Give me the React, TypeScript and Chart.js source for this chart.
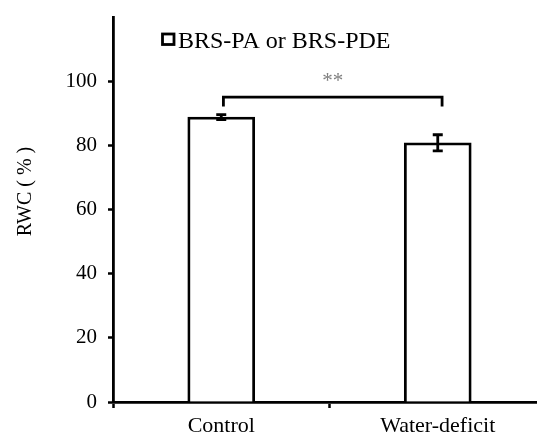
import React, { useEffect, useRef } from 'react';
import { Chart, registerables } from 'chart.js';

Chart.register(...registerables);

const categories = ['Control', 'Water-deficit'];
const rwcMeans = [88.8, 80.8];
const rwcErrors = [0.8, 2.5];
const seriesLabel = 'BRS-PA or BRS-PDE';
const yTitle = 'RWC ( % )';
const yMin = 0;
const yMax = 120;
const yStep = 20;
const bracketTop = 95;
const bracketEndValue = 92.1;
const bracketFrom = 0.01;
const bracketTo = 1.02;
const significance = '**';
const significanceLevel = 101.3;

const FONT = "'Liberation Serif', 'Times New Roman', serif";

const overlayPlugin = {
  id: 'overlay',
  afterDatasetsDraw(chart: any) {
    const ctx = chart.ctx;
    const xs = chart.scales.x;
    const ys = chart.scales.y;
    const meta = chart.getDatasetMeta(0);
    ctx.save();
    // error bars
    ctx.strokeStyle = '#000';
    ctx.lineWidth = 2.8;
    meta.data.forEach((bar: any, i: number) => {
      const x = bar.x;
      const top = ys.getPixelForValue(rwcMeans[i] + rwcErrors[i]);
      const bot = ys.getPixelForValue(rwcMeans[i] - rwcErrors[i]);
      ctx.beginPath();
      ctx.moveTo(x, top);
      ctx.lineTo(x, bot);
      ctx.moveTo(x - 5, top);
      ctx.lineTo(x + 5, top);
      ctx.moveTo(x - 5, bot);
      ctx.lineTo(x + 5, bot);
      ctx.stroke();
    });
    // bracket
    const bx1 = xs.getPixelForValue(bracketFrom);
    const bx2 = xs.getPixelForValue(bracketTo);
    const byTop = ys.getPixelForValue(bracketTop);
    const byEnd = ys.getPixelForValue(bracketEndValue);
    ctx.beginPath();
    ctx.moveTo(bx1, byEnd);
    ctx.lineTo(bx1, byTop);
    ctx.lineTo(bx2, byTop);
    ctx.lineTo(bx2, byEnd);
    ctx.stroke();
    // significance
    ctx.fillStyle = '#7f7f7f';
    ctx.font = `21px ${FONT}`;
    ctx.textAlign = 'center';
    ctx.textBaseline = 'middle';
    ctx.fillText(significance, (bx1 + bx2) / 2, ys.getPixelForValue(significanceLevel) + 4);
    // legend
    ctx.lineWidth = 2.8;
    ctx.strokeStyle = '#000';
    ctx.fillStyle = '#fff';
    ctx.fillRect(162.5, 34, 11.5, 10.5);
    ctx.strokeRect(162.5, 34, 11.5, 10.5);
    ctx.fillStyle = '#000';
    ctx.font = `24px ${FONT}`;
    ctx.textAlign = 'left';
    ctx.textBaseline = 'alphabetic';
    ctx.fillText(seriesLabel, 178, 47.5);
    // y title
    ctx.save();
    ctx.translate(26, 191.5);
    ctx.rotate(-Math.PI / 2);
    ctx.font = `20px ${FONT}`;
    ctx.textAlign = 'center';
    ctx.textBaseline = 'middle';
    ctx.fillStyle = '#000';
    ctx.fillText(yTitle, 0, 0);
    ctx.restore();
    ctx.restore();
  },
};

export default function App() {
  const ref = useRef<HTMLCanvasElement | null>(null);
  useEffect(() => {
    if (!ref.current) return;
    const chart = new Chart(ref.current, {
      type: 'bar',
      data: {
        labels: categories,
        datasets: [
          {
            label: seriesLabel,
            data: rwcMeans,
            backgroundColor: '#ffffff',
            borderColor: '#000000',
            borderWidth: 2.8,
            barThickness: 67,
          },
        ],
      },
      options: {
        responsive: false,
        animation: false,
        layout: { padding: { top: 17, right: 14, left: 0, bottom: 0 } },
        plugins: {
          legend: { display: false },
          tooltip: { enabled: false },
        },
        scales: {
          x: {
            offset: true,
            grid: {
              offset: true,
              drawOnChartArea: false,
              drawTicks: true,
              tickLength: 6,
              tickWidth: 2.5,
              tickColor: '#000',
            },
            border: { color: '#000', width: 2.8 },
            ticks: {
              color: '#000',
              font: { family: FONT, size: 22 },
              padding: 5,
              maxRotation: 0,
            },
            afterFit: (s: any) => {
              s.height = 35;
              s.paddingLeft = 0;
              s.paddingRight = 0;
            },
          },
          y: {
            min: yMin,
            max: yMax,
            grid: {
              drawOnChartArea: false,
              drawTicks: true,
              tickLength: 5,
              tickWidth: 2.5,
              tickColor: (c: any) => (c.tick && c.tick.value === yMax ? 'rgba(0,0,0,0)' : '#000'),
            },
            border: { color: '#000', width: 2.8 },
            ticks: {
              stepSize: yStep,
              color: '#000',
              font: { family: FONT, size: 21 },
              padding: 11,
              callback: (v: any) => (v === yMax ? '' : String(v)),
            },
            afterFit: (s: any) => {
              s.width = 113;
              s.paddingTop = 0;
              s.paddingBottom = 0;
            },
          },
        },
      },
      plugins: [overlayPlugin],
    });
    return () => chart.destroy();
  }, []);
  return (
    <div style={{ position: 'absolute', left: 0, top: 0, width: 537, height: 437, overflow: 'hidden', background: '#fff' }}>
      <canvas ref={ref} width={560} height={437} style={{ width: 560, height: 437, display: 'block' }} />
    </div>
  );
}
